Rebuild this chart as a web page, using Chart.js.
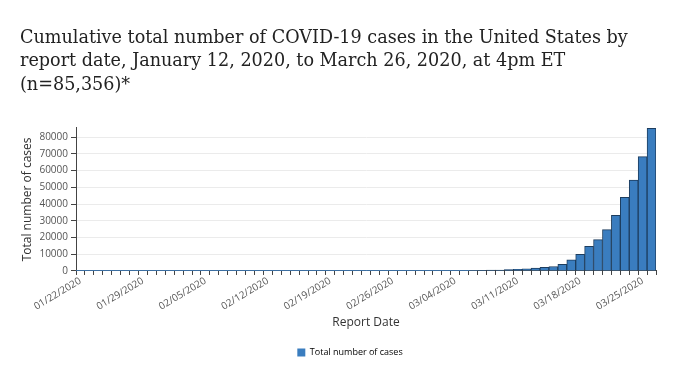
<!DOCTYPE html>
<html>
<head>
<meta charset="utf-8">
<script src="https://cdn.jsdelivr.net/npm/chart.js@4"></script>
<style>
  html, body { margin: 0; padding: 0; background: #ffffff; }
  #wrap { width: 680px; height: 372px; position: relative; }
</style>
</head>
<body>
<div id="wrap"><canvas id="c" width="680" height="372"></canvas></div>
<script>
const titleLines = [
  "Cumulative total number of COVID-19 cases in the United States by",
  "report date, January 12, 2020, to March 26, 2020, at 4pm ET",
  "(n=85,356)*"
];
const categories = [
  "01/22/2020","01/23/2020","01/24/2020","01/25/2020","01/26/2020","01/27/2020","01/28/2020",
  "01/29/2020","01/30/2020","01/31/2020","02/01/2020","02/02/2020","02/03/2020","02/04/2020",
  "02/05/2020","02/06/2020","02/07/2020","02/08/2020","02/09/2020","02/10/2020","02/11/2020",
  "02/12/2020","02/13/2020","02/14/2020","02/15/2020","02/16/2020","02/17/2020","02/18/2020",
  "02/19/2020","02/20/2020","02/21/2020","02/22/2020","02/23/2020","02/24/2020","02/25/2020",
  "02/26/2020","02/27/2020","02/28/2020","02/29/2020","03/01/2020","03/02/2020","03/03/2020",
  "03/04/2020","03/05/2020","03/06/2020","03/07/2020","03/08/2020","03/09/2020","03/10/2020",
  "03/11/2020","03/12/2020","03/13/2020","03/14/2020","03/15/2020","03/16/2020","03/17/2020",
  "03/18/2020","03/19/2020","03/20/2020","03/21/2020","03/22/2020","03/23/2020","03/24/2020",
  "03/25/2020","03/26/2020"
];
const totalCases = [
  1, 1, 2, 2, 5, 5, 5,
  5, 6, 7, 8, 11, 11, 11,
  12, 12, 12, 12, 12, 12, 13,
  13, 14, 15, 15, 15, 15, 15,
  15, 15, 35, 35, 35, 53, 53,
  59, 60, 62, 70, 76, 101, 122,
  153, 221, 278, 417, 537, 605, 777,
  1000, 1300, 1700, 2200, 2700, 3900, 6700,
  10000, 14700, 18700, 24700, 33300, 44000, 54400,
  68400, 85356
];
const yTickValues = [0, 10000, 20000, 30000, 40000, 50000, 60000, 70000, 80000];
const seriesLabel = "Total number of cases";
const xTitle = "Report Date";
const yTitle = "Total number of cases";

const sans = "'Open Sans', 'Noto Sans', sans-serif";
const barFill = '#3a7dbf';

new Chart(document.getElementById('c'), {
  type: 'bar',
  data: {
    labels: categories,
    datasets: [{
      label: seriesLabel,
      data: totalCases,
      backgroundColor: barFill,
      borderColor: '#1d3d5e',
      borderWidth: (ctx) => (ctx.raw !== undefined && ctx.raw < 300 ? 0 : 1),
      barPercentage: 1.0,
      categoryPercentage: 1.0
    }]
  },
  options: {
    responsive: false,
    animation: false,
    layout: { padding: { left: 20, right: 0, top: 0, bottom: 5 } },
    plugins: {
      title: {
        display: true,
        text: titleLines,
        align: 'start',
        color: '#222222',
        font: { family: "'DejaVu Serif', serif", size: 17.6, weight: 'normal', lineHeight: 1.36 },
        padding: { top: 26, bottom: 30 }
      },
      legend: {
        display: true,
        position: 'bottom',
        labels: {
          color: '#444444',
          font: { family: sans, size: 9 },
          boxWidth: 8,
          boxHeight: 8,
          padding: 6,
          generateLabels: () => [{
            text: seriesLabel,
            fillStyle: barFill,
            strokeStyle: barFill,
            lineWidth: 0,
            datasetIndex: 0
          }]
        }
      },
      tooltip: { enabled: false }
    },
    scales: {
      x: {
        offset: true,
        grid: {
          display: true,
          drawOnChartArea: false,
          drawTicks: true,
          tickLength: 4,
          color: '#444444',
          offset: true
        },
        border: { display: true, color: '#444444', width: 1 },
        ticks: {
          autoSkip: false,
          minRotation: 31,
          maxRotation: 31,
          color: '#555555',
          font: { family: sans, size: 10 },
          padding: 0,
          callback: (v, i) => (i % 7 === 0 ? categories[i] : '')
        },
        title: {
          display: true,
          text: xTitle,
          color: '#333333',
          font: { family: sans, size: 12 },
          padding: { top: 3, bottom: 12 }
        }
      },
      y: {
        min: 0,
        max: 85600,
        afterBuildTicks: (scale) => { scale.ticks = yTickValues.map(v => ({ value: v })); },
        afterFit: (scale) => { scale.width = 56; },
        grid: {
          color: '#ebebeb',
          drawTicks: true,
          tickLength: 5,
          tickColor: '#444444'
        },
        border: { display: true, color: '#444444', width: 1 },
        ticks: {
          color: '#555555',
          font: { family: sans, size: 10 },
          padding: 3,
          callback: (v) => String(v)
        },
        title: {
          display: true,
          text: yTitle,
          color: '#333333',
          font: { family: sans, size: 12 },
          padding: { top: 0, bottom: 4 }
        }
      },
      yRightSpace: {
        position: 'right',
        display: true,
        grid: { display: false, drawTicks: false },
        border: { display: false },
        ticks: { display: false },
        afterFit: (scale) => { scale.width = 24; }
      }
    }
  }
});
</script>
</body>
</html>
